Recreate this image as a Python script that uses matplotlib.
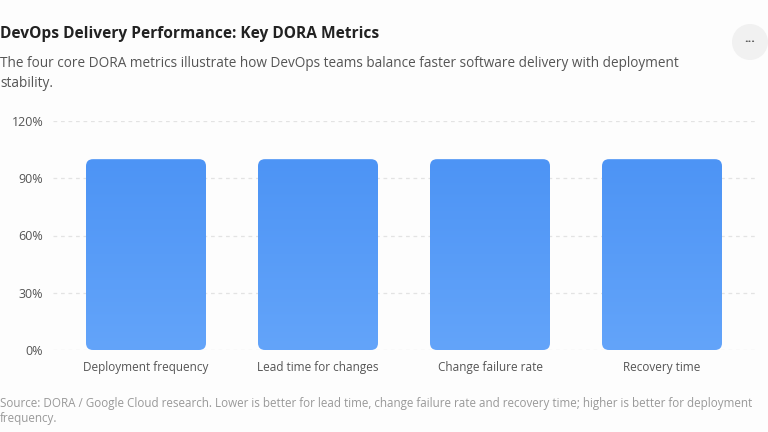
import matplotlib
matplotlib.use("Agg")
import matplotlib.pyplot as plt
import numpy as np
from matplotlib.patches import FancyBboxPatch, Circle

categories = ["Deployment frequency", "Lead time for changes", "Change failure rate", "Recovery time"]
values = [100, 100, 100, 100]
yticks = [0, 30, 60, 90, 120]
ytick_labels = ["0%", "30%", "60%", "90%", "120%"]

title = "DevOps Delivery Performance: Key DORA Metrics"
subtitle = "The four core DORA metrics illustrate how DevOps teams balance faster software delivery with deployment\nstability."
source = "Source: DORA / Google Cloud research. Lower is better for lead time, change failure rate and recovery time; higher is better for deployment\nfrequency."

plt.rcParams['font.family'] = ['Open Sans', 'DejaVu Sans']

W, H = 768, 432
fig = plt.figure(figsize=(W/100, H/100), dpi=100)
fig.patch.set_facecolor("#fdfdfd")

left, right, bottom, top = 53/W, 755/W, (H-350)/H, (H-121)/H
ax = fig.add_axes([left, bottom, right-left, top-bottom])
ax.set_facecolor("#fdfdfd")

x = np.arange(len(categories))
xlim = (-0.5 - 7/172, len(categories) - 0.5 + 7/172)
ax.set_xlim(*xlim)
ax.set_ylim(0, 120)

bars = ax.bar(x, values, width=120/172, color="none")

for yv in yticks:
    ax.axhline(yv, color="#e3e3e3", lw=0.9, ls=(0, (3, 3)), zorder=0)

ax.set_yticks(yticks)
ax.set_yticklabels(ytick_labels)
ax.set_xticks(x)
ax.set_xticklabels(categories)
ax.tick_params(axis='both', length=0, labelcolor="#555555")
ax.tick_params(axis='y', pad=7, labelsize=9)
ax.tick_params(axis='x', pad=8, labelsize=8.5)
for s in ax.spines.values():
    s.set_visible(False)

# rounded gradient bars
xpp = (xlim[1]-xlim[0]) / (W*(right-left))
ypp = 120 / (H*(top-bottom))
r_px = 7
grad = np.linspace(0, 1, 256).reshape(-1, 1)
c_top = np.array([0x4d, 0x94, 0xf5]) / 255
c_bot = np.array([0x63, 0xa4, 0xfa]) / 255
img = c_top[None, None, :] * (1 - grad[:, :, None]) + c_bot[None, None, :] * grad[:, :, None]
for b in bars:
    bx, by, bw, bh = b.get_x(), b.get_y(), b.get_width(), b.get_height()
    p = FancyBboxPatch((bx, by), bw, bh,
                       boxstyle=f"round,pad=0,rounding_size={r_px*xpp}",
                       mutation_aspect=ypp/xpp, facecolor="none", edgecolor="none", zorder=2)
    ax.add_patch(p)
    im = ax.imshow(img, extent=[bx, bx+bw, by, by+bh], aspect='auto', zorder=2, origin='upper')
    im.set_clip_path(p)
ax.set_xlim(*xlim)
ax.set_ylim(0, 120)

fig.text(0/W, 1 - 38/H, title, fontsize=11.2, fontweight='bold', color="#222222", ha='left', va='baseline')
fig.text(0/W, 1 - 87/H, subtitle, fontsize=9.8, color="#555555", ha='left', va='baseline', linespacing=1.45)
fig.text(0/W, 1 - 422/H, source, fontsize=8.4, color="#999999", ha='left', va='baseline', linespacing=1.22)

# ellipsis button
circ = Circle((750, H-42), 18, transform=None, facecolor="#f1f1f1", edgecolor="none")
fig.patches.append(circ)
fig.text(750/W, 1 - 42/H, "···", fontsize=9, color="#555555", ha='center', va='center', fontweight='bold')

fig.savefig("out.png", dpi=100, facecolor=fig.get_facecolor())
